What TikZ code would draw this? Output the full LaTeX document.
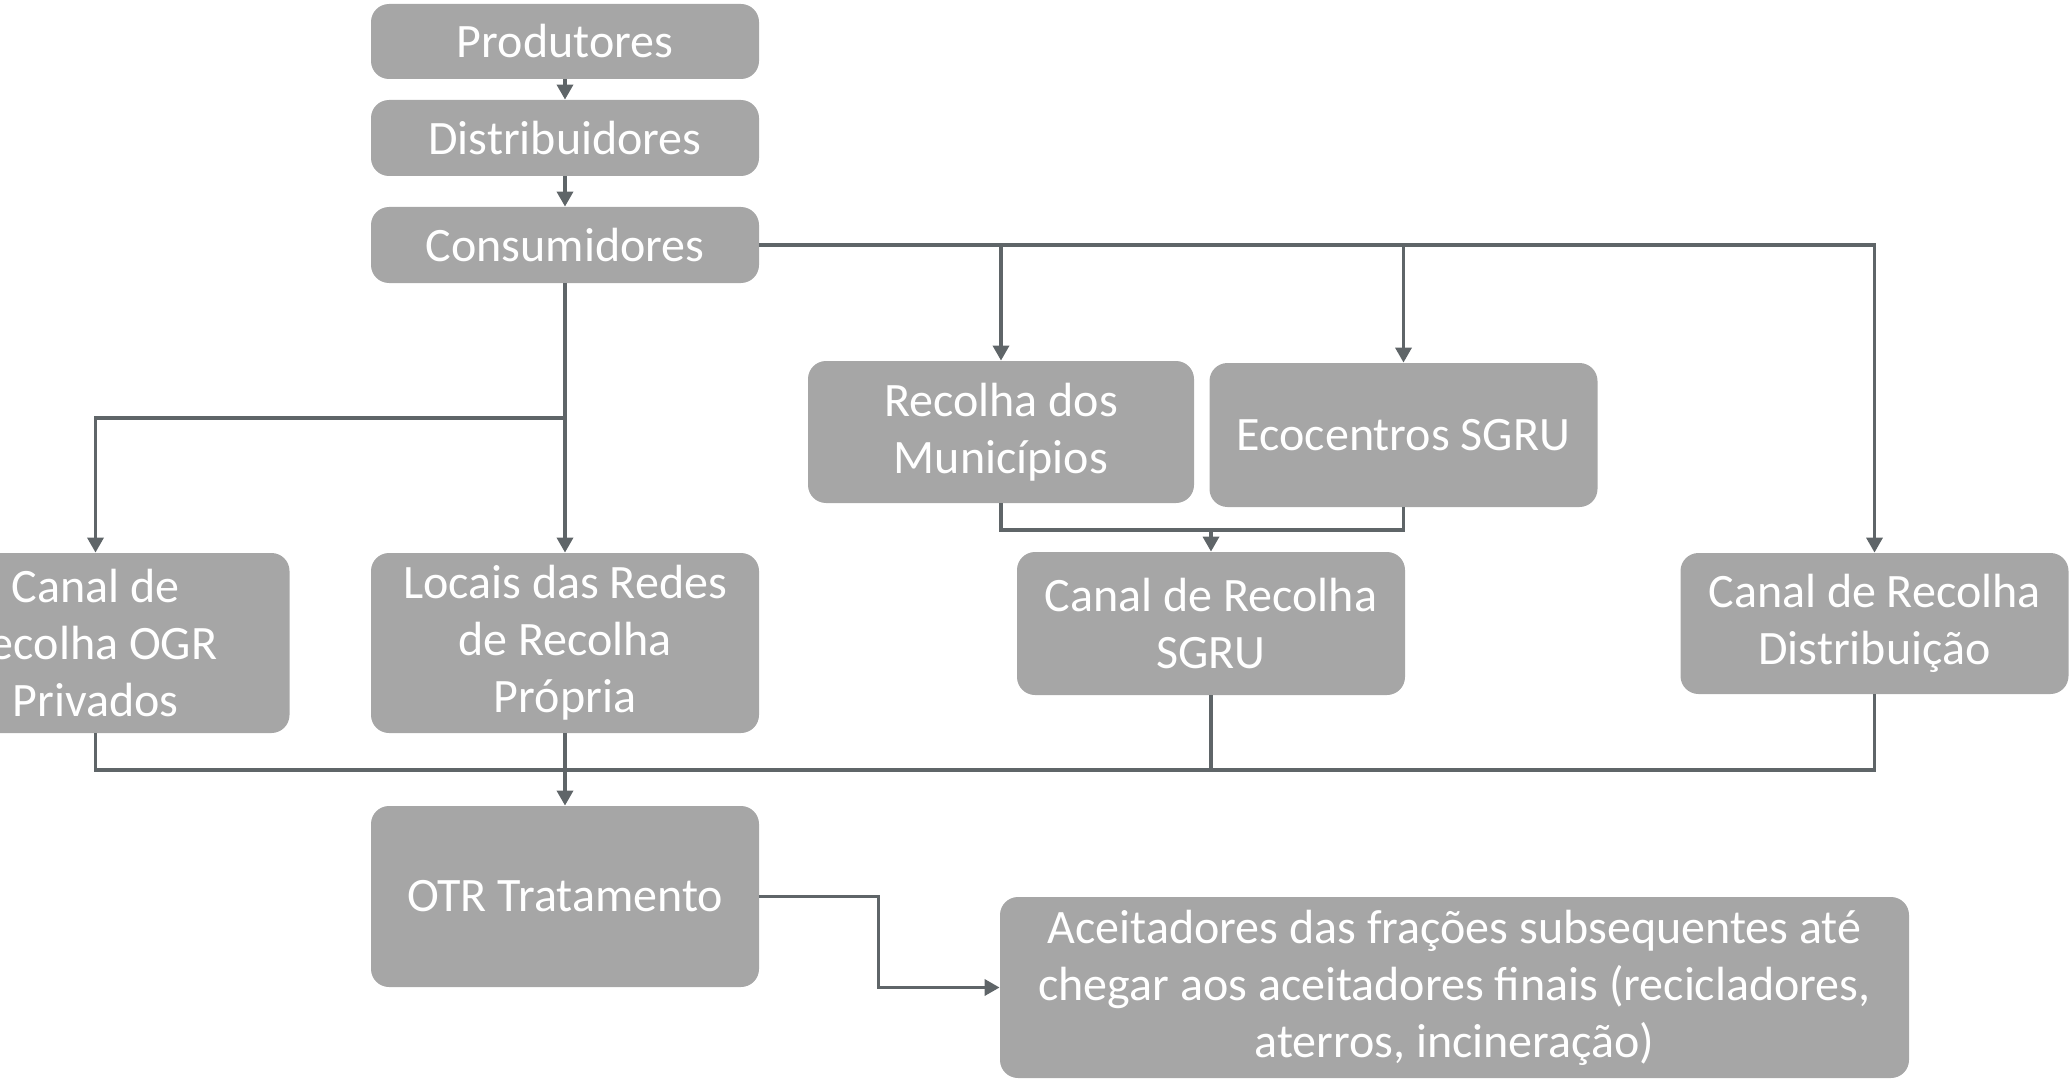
\documentclass[tikz,border=0pt]{standalone}
\usepackage{fontspec}
\setmainfont{Carlito}
\usetikzlibrary{arrows.meta, positioning}
\definecolor{boxgray}{HTML}{A6A6A6}
\definecolor{linegray}{HTML}{5F6568}

\begin{document}
\begin{tikzpicture}[x=0.5pt, y=-0.5pt,
  box/.style={fill=boxgray, rounded corners=9pt, text=white, align=center,
    inner sep=0pt, minimum width=194pt,
    font=\fontsize{24}{28.5}\selectfont},
  line/.style={draw=linegray, line width=1.7pt},
  link/.style={line, -{Triangle[width=8pt, length=7.5pt]}}]
\useasboundingbox (0,0) rectangle (2069,1081);
\node[box, minimum height=37.5pt] (prod) at (565,41.5) {Produtores};
\node[box, minimum height=38pt] (dist) at (565,138) {Distribuidores};
\node[box, minimum height=38pt] (cons) at (565,245) {Consumidores};
\node[box, minimum height=90pt] (ogr) at (95.5,643) {Canal de\\recolha OGR\\Privados};
\node[box, minimum height=90pt] (locais) at (565,643) {Locais das Redes\\de Recolha\\Própria};
\node[box, minimum width=193pt, minimum height=71pt] (munic) at (1001,432) {Recolha dos\\Municípios};
\node[box, minimum height=72pt] (eco) at (1403.5,435) {Ecocentros SGRU};
\node[box, minimum height=71.5pt] (sgru) at (1211,623.5) {Canal de Recolha\\SGRU};
\node[box, minimum height=70.5pt] (distr) at (1874.5,623.5) {Canal de Recolha\\Distribuição};
\node[box, minimum height=90.5pt] (otr) at (565,896.5) {OTR Tratamento};
\node[box, minimum width=454.5pt, minimum height=90.5pt] (acei) at (1454.5,987.5) {Aceitadores das frações subsequentes até\\chegar aos aceitadores finais (recicladores,\\aterros, incineração)};
\coordinate (split) at (565,418);
\coordinate (mergeSGRU) at (1211,530);
\coordinate (collect) at (565,770);
\draw[link] (prod) -- (dist);
\draw[link] (dist) -- (cons);
\draw[link] (cons.east) -- (cons.east -| distr.north) -- (distr.north);
\draw[link] (cons.east -| munic.north) -- (munic.north);
\draw[link] (cons.east -| eco.north) -- (eco.north);
\draw[link] (cons.south) -- (locais.north);
\draw[link] (split) -| (ogr.north);
\draw[line] (munic.south) |- (mergeSGRU);
\draw[line] (eco.south) |- (mergeSGRU);
\draw[link] (mergeSGRU) -- (sgru.north);
\draw[line] (ogr.south) |- (collect -| distr.south) -- (distr.south);
\draw[line] (sgru.south) -- (sgru.south |- collect);
\draw[link] (locais.south) -- (otr.north);
\draw[link] (otr.east) -- ++(119,0) |- (acei.west);
\end{tikzpicture}
\end{document}
